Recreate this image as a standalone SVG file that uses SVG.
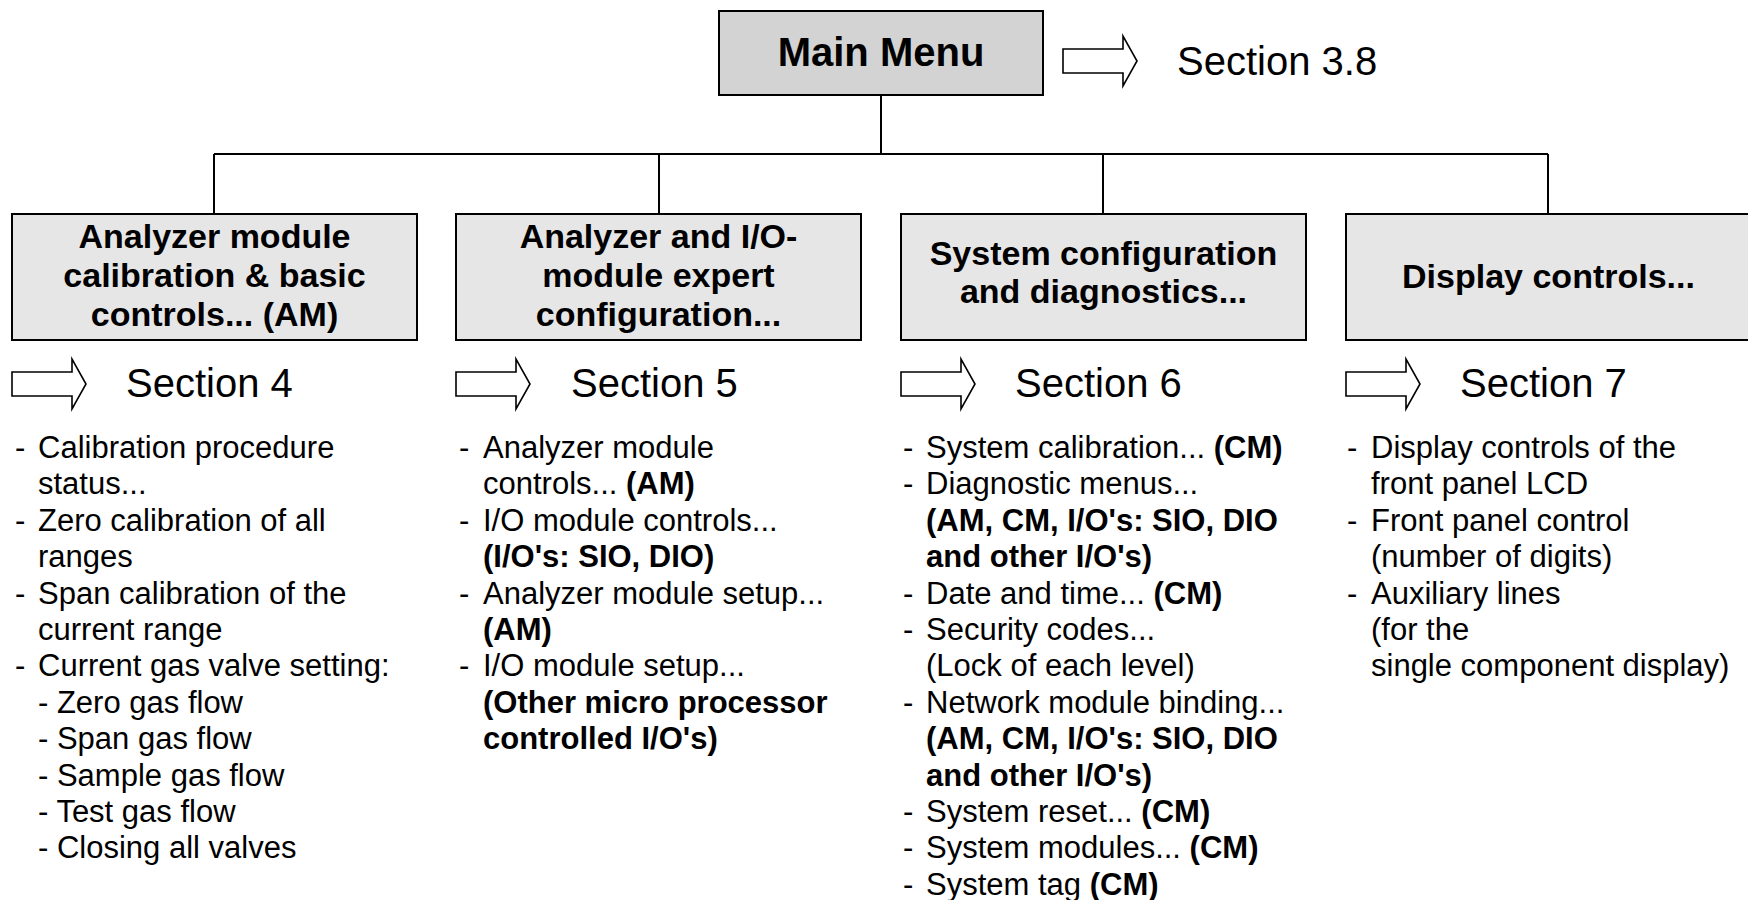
<svg xmlns="http://www.w3.org/2000/svg" xmlns:xlink="http://www.w3.org/1999/xlink" width="1748" height="900" viewBox="0 0 1748 900">
<style>
  .box { fill: #e6e6e6; stroke: #000; stroke-width: 2; }
  .main { fill: #d3d3d3; stroke: #000; stroke-width: 2; }
  .conn { stroke: #000; stroke-width: 2; fill: none; }
  .arrow { fill: #fff; stroke: #000; stroke-width: 1.6; stroke-linejoin: miter; }
  .title { font-family: "Liberation Sans", Arial, sans-serif; font-weight: bold; font-size: 34px; fill: #000; text-anchor: middle; }
  .mtitle { font-family: "Liberation Sans", Arial, sans-serif; font-weight: bold; font-size: 40px; fill: #000; text-anchor: middle; }
  .sec { font-family: "Liberation Sans", Arial, sans-serif; font-size: 40px; fill: #000; }
  .item { font-family: "Liberation Sans", Arial, sans-serif; font-size: 31px; fill: #000; }
  .b { font-weight: bold; }
</style>
<defs>
  <path id="arr" class="arrow" d="M0,13 H60 V0 L74,25 L60,50 V37 H0 Z"/>
</defs>

<g id="connectors">
  <line class="conn" x1="881" y1="95" x2="881" y2="154"/>
  <line class="conn" x1="214" y1="154" x2="1548" y2="154"/>
  <line class="conn" x1="214" y1="154" x2="214" y2="214"/>
  <line class="conn" x1="659" y1="154" x2="659" y2="214"/>
  <line class="conn" x1="1103" y1="154" x2="1103" y2="214"/>
  <line class="conn" x1="1548" y1="154" x2="1548" y2="214"/>
</g>

<g id="main-menu">
  <rect class="main" x="719" y="11" width="324" height="84"/>
  <text class="mtitle" x="881" y="66">Main Menu</text>
  <use xlink:href="#arr" x="1063" y="36"/>
  <text class="sec" x="1177" y="75">Section 3.8</text>
</g>

<g id="node-am">
  <rect class="box" x="12" y="214" width="405" height="126"/>
  <text class="title" x="214.5" y="248">Analyzer module</text>
  <text class="title" x="214.5" y="287">calibration &amp; basic</text>
  <text class="title" x="214.5" y="326">controls... (AM)</text>
  <use xlink:href="#arr" x="12" y="359"/>
  <text class="sec" x="126" y="397">Section 4</text>
  <g class="item">
    <text x="15" y="458">-</text><text x="38" y="458">Calibration procedure</text>
    <text x="38" y="494.4">status...</text>
    <text x="15" y="530.8">-</text><text x="38" y="530.8">Zero calibration of all</text>
    <text x="38" y="567.2">ranges</text>
    <text x="15" y="603.6">-</text><text x="38" y="603.6">Span calibration of the</text>
    <text x="38" y="640">current range</text>
    <text x="15" y="676.4">-</text><text x="38" y="676.4">Current gas valve setting:</text>
    <text x="38" y="712.8">- Zero gas flow</text>
    <text x="38" y="749.2">- Span gas flow</text>
    <text x="38" y="785.6">- Sample gas flow</text>
    <text x="38" y="822">- Test gas flow</text>
    <text x="38" y="858.4">- Closing all valves</text>
  </g>
</g>

<g id="node-expert">
  <rect class="box" x="456" y="214" width="405" height="126"/>
  <text class="title" x="658.5" y="248">Analyzer and I/O-</text>
  <text class="title" x="658.5" y="287">module expert</text>
  <text class="title" x="658.5" y="326">configuration...</text>
  <use xlink:href="#arr" x="456" y="359"/>
  <text class="sec" x="571" y="397">Section 5</text>
  <g class="item">
    <text x="459" y="458">-</text><text x="483" y="458">Analyzer module</text>
    <text x="483" y="494.4">controls... <tspan class="b">(AM)</tspan></text>
    <text x="459" y="530.8">-</text><text x="483" y="530.8">I/O module controls...</text>
    <text x="483" y="567.2" class="b">(I/O's: SIO, DIO)</text>
    <text x="459" y="603.6">-</text><text x="483" y="603.6">Analyzer module setup...</text>
    <text x="483" y="640" class="b">(AM)</text>
    <text x="459" y="676.4">-</text><text x="483" y="676.4">I/O module setup...</text>
    <text x="483" y="712.8" class="b">(Other micro processor</text>
    <text x="483" y="749.2" class="b">controlled I/O's)</text>
  </g>
</g>

<g id="node-system">
  <rect class="box" x="901" y="214" width="405" height="126"/>
  <text class="title" x="1103.5" y="265">System configuration</text>
  <text class="title" x="1103.5" y="303">and diagnostics...</text>
  <use xlink:href="#arr" x="901" y="359"/>
  <text class="sec" x="1015" y="397">Section 6</text>
  <g class="item">
    <text x="903" y="458">-</text><text x="926" y="458">System calibration... <tspan class="b">(CM)</tspan></text>
    <text x="903" y="494.4">-</text><text x="926" y="494.4">Diagnostic menus...</text>
    <text x="926" y="530.8" class="b">(AM, CM, I/O's: SIO, DIO</text>
    <text x="926" y="567.2" class="b">and other I/O's)</text>
    <text x="903" y="603.6">-</text><text x="926" y="603.6">Date and time... <tspan class="b">(CM)</tspan></text>
    <text x="903" y="640">-</text><text x="926" y="640">Security codes...</text>
    <text x="926" y="676.4">(Lock of each level)</text>
    <text x="903" y="712.8">-</text><text x="926" y="712.8">Network module binding...</text>
    <text x="926" y="749.2" class="b">(AM, CM, I/O's: SIO, DIO</text>
    <text x="926" y="785.6" class="b">and other I/O's)</text>
    <text x="903" y="822">-</text><text x="926" y="822">System reset... <tspan class="b">(CM)</tspan></text>
    <text x="903" y="858.4">-</text><text x="926" y="858.4">System modules... <tspan class="b">(CM)</tspan></text>
    <text x="903" y="894.8">-</text><text x="926" y="894.8">System tag <tspan class="b">(CM)</tspan></text>
  </g>
</g>

<g id="node-display">
  <rect class="box" x="1346" y="214" width="405" height="126"/>
  <text class="title" x="1548.5" y="288">Display controls...</text>
  <use xlink:href="#arr" x="1346" y="359"/>
  <text class="sec" x="1460" y="397">Section 7</text>
  <g class="item">
    <text x="1347" y="458">-</text><text x="1371" y="458">Display controls of the</text>
    <text x="1371" y="494.4">front panel LCD</text>
    <text x="1347" y="530.8">-</text><text x="1371" y="530.8">Front panel control</text>
    <text x="1371" y="567.2">(number of digits)</text>
    <text x="1347" y="603.6">-</text><text x="1371" y="603.6">Auxiliary lines</text>
    <text x="1371" y="640">(for the</text>
    <text x="1371" y="676.4">single component display)</text>
  </g>
</g>
</svg>
